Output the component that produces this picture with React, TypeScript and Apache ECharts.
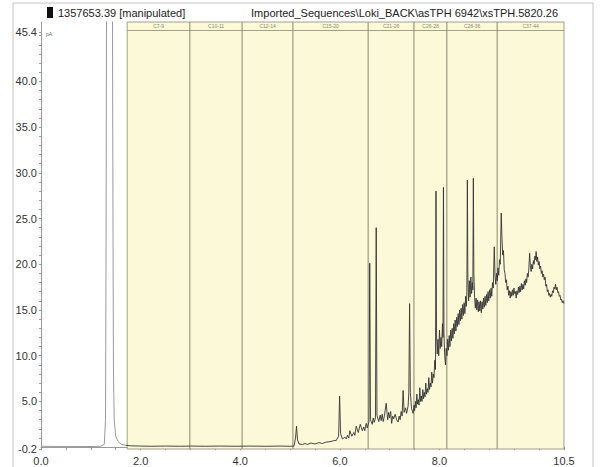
import React, { useEffect, useRef } from "react";
import * as echarts from "echarts";

const headerLeft = "1357653.39 [manipulated]";
const headerRight = "Imported_Sequences\\Loki_BACK\\asTPH 6942\\xsTPH.5820.26";

const bandNames = ["C7-9", "C10-11", "C12-14", "C15-20", "C21-26", "C26-28", "C28-36", "C37-44"];
const bandEdges = [1.73, 2.99, 4.04, 5.06, 6.57, 7.49, 8.15, 9.16, 10.5];

const xLabelValues = [0, 2, 4, 6, 8, 10.5];
const yLabelValues = [-0.2, 5, 10, 15, 20, 25, 30, 35, 40, 45.4];

const solventPeak: number[][] = [
  [0, 0.1], [0.3, 0.08], [0.6, 0.08], [0.9, 0.07], [1.1, 0.08], [1.2, 0.1], [1.27, 0.3],
  [1.295, 3], [1.305, 20], [1.32, 60], [1.43, 60], [1.445, 25], [1.455, 8], [1.47, 3],
  [1.5, 1.2], [1.55, 0.6], [1.62, 0.3], [1.7, 0.2],
];

const earlyRegion: number[][] = [
  [1.7, 0.2], [1.8, 0.15], [2.0, 0.12], [2.2, 0.1], [2.5, 0.12], [2.8, 0.1], [3.0, 0.12], [3.3, 0.1],
  [3.6, 0.12], [3.9, 0.1], [4.2, 0.12], [4.5, 0.1], [4.8, 0.12], [5.0, 0.1], [5.08, 0.12],
  [5.11, 1.0], [5.13, 2.3], [5.15, 0.8], [5.18, 0.35], [5.25, 0.3], [5.3, 0.4], [5.35, 0.3],
  [5.42, 0.45], [5.5, 0.35], [5.58, 0.5], [5.65, 0.4], [5.72, 0.55], [5.8, 0.6], [5.87, 0.7],
  [5.93, 0.75], [5.975, 1.2], [5.995, 5.6], [6.015, 1.5], [6.05, 0.9], [6.1, 1.1], [6.13, 0.9],
  [6.15, 1.3], [6.18, 1.0], [6.2, 1.8], [6.24, 1.2], [6.28, 1.6], [6.3, 1.3], [6.33, 2.3],
  [6.37, 1.6], [6.41, 2.5], [6.45, 1.8], [6.48, 2.2], [6.5, 1.8], [6.53, 2.6], [6.55, 2.1],
  [6.585, 2.8], [6.6, 20.1], [6.615, 3.0], [6.65, 2.5], [6.67, 3.2], [6.69, 2.7],
  [6.715, 3.2], [6.73, 24.0], [6.745, 3.5], [6.78, 2.8], [6.81, 3.5], [6.83, 2.9], [6.85, 3.6],
  [6.87, 2.8], [6.89, 3.3], [6.93, 4.8], [6.96, 3.0], [6.98, 3.8], [7.0, 3.2], [7.02, 3.9],
  [7.04, 2.6], [7.06, 3.4], [7.08, 3.1], [7.11, 3.6], [7.14, 3.0], [7.17, 2.75], [7.19, 3.4],
  [7.21, 3.0], [7.23, 3.9], [7.25, 3.4], [7.27, 6.2], [7.29, 3.8], [7.32, 4.3], [7.34, 3.7],
  [7.37, 4.5], [7.385, 6], [7.4, 15.7], [7.415, 6], [7.44, 4.2], [7.47, 3.7],
];

const midRegion: number[][] = [
  [7.49, 4.6], [7.5, 4.0], [7.52, 5.0], [7.53, 4.3], [7.545, 5.8], [7.56, 4.7], [7.575, 5.2],
  [7.59, 4.6], [7.605, 6.5], [7.62, 5.0], [7.635, 5.6], [7.65, 5.0], [7.665, 6.3], [7.68, 5.3],
  [7.695, 6.0], [7.71, 5.5], [7.725, 7.0], [7.74, 5.8], [7.755, 6.4], [7.77, 6.0], [7.785, 7.6],
  [7.8, 6.3], [7.815, 7.0], [7.83, 6.6], [7.845, 8.2], [7.86, 7.0], [7.875, 8.0], [7.89, 7.6],
  [7.905, 9.5], [7.92, 8.5], [7.93, 28.0], [7.94, 12.5], [7.955, 10.2], [7.97, 11.8],
  [7.985, 10.0], [8.0, 12.8], [8.015, 10.8], [8.03, 12.0], [8.045, 11.0], [8.06, 13.5],
  [8.07, 12.0], [8.08, 28.4], [8.09, 12.5], [8.105, 10.0], [8.12, 9.0], [8.135, 10.8],
  [8.15, 10.0], [8.165, 11.8], [8.18, 10.6], [8.195, 12.2], [8.21, 11.0], [8.225, 12.8],
  [8.24, 11.6], [8.255, 13.0], [8.27, 11.9], [8.285, 13.5], [8.3, 12.4], [8.315, 13.9],
  [8.33, 12.7], [8.345, 14.2], [8.36, 13.2], [8.375, 14.6], [8.39, 13.4], [8.405, 15.0],
  [8.42, 13.8], [8.435, 15.2], [8.45, 14.0], [8.465, 15.6], [8.48, 14.4], [8.495, 15.8],
  [8.51, 14.6], [8.525, 16.5], [8.54, 15.4], [8.55, 17.0], [8.56, 29.2], [8.57, 18.5],
  [8.585, 16.0], [8.6, 18.2], [8.615, 16.4], [8.63, 18.6], [8.645, 16.8], [8.66, 18.0],
  [8.67, 17.2], [8.68, 29.4], [8.69, 19.0], [8.705, 16.4], [8.72, 15.2], [8.735, 16.3],
  [8.75, 15.0], [8.765, 16.1], [8.78, 14.8], [8.795, 15.9], [8.81, 14.9], [8.825, 16.0],
  [8.84, 14.7], [8.855, 15.9], [8.87, 15.1], [8.885, 16.3], [8.9, 15.3], [8.915, 16.5],
  [8.93, 15.5], [8.945, 16.7], [8.96, 15.8], [8.975, 17.0], [8.99, 16.0],
];

const lateRegion: number[][] = [
  [9.005, 17.2], [9.02, 16.3], [9.035, 17.4], [9.05, 16.5], [9.065, 18.0], [9.08, 17.4],
  [9.1, 21.9], [9.115, 18.8], [9.13, 17.8], [9.145, 19.0], [9.16, 18.2], [9.175, 19.6],
  [9.19, 18.8], [9.205, 20.5], [9.22, 20.0], [9.24, 25.6], [9.255, 22.8], [9.27, 21.0],
  [9.285, 21.5], [9.3, 19.4], [9.315, 19.0], [9.33, 18.0], [9.345, 18.3], [9.36, 17.2],
  [9.375, 17.6], [9.39, 16.6], [9.405, 17.1], [9.42, 16.3], [9.435, 17.0], [9.45, 16.5],
  [9.465, 17.2], [9.48, 16.6], [9.495, 17.4], [9.51, 16.8], [9.525, 17.0], [9.54, 16.3],
  [9.555, 17.1], [9.57, 16.7], [9.585, 17.5], [9.6, 16.9], [9.615, 17.6], [9.63, 17.0],
  [9.645, 17.9], [9.66, 17.2], [9.675, 17.8], [9.69, 17.3], [9.705, 18.2], [9.72, 17.7],
  [9.735, 18.4], [9.75, 18.0], [9.765, 19.0], [9.78, 18.6], [9.795, 19.6], [9.81, 21.2],
  [9.825, 19.8], [9.84, 19.2], [9.855, 20.0], [9.87, 19.5], [9.885, 20.4], [9.9, 20.0],
  [9.915, 20.9], [9.93, 20.5], [9.94, 21.4], [9.955, 20.3], [9.97, 20.8], [9.985, 19.9],
  [10.0, 20.3], [10.015, 19.5], [10.03, 19.8], [10.045, 19.0], [10.06, 19.3], [10.075, 18.6],
  [10.09, 18.9], [10.105, 18.3], [10.12, 18.6], [10.135, 17.6], [10.15, 17.8], [10.165, 17.0],
  [10.18, 17.2], [10.195, 16.6], [10.21, 16.8], [10.225, 16.4], [10.24, 16.7], [10.255, 16.5],
  [10.27, 17.1], [10.285, 16.9], [10.3, 17.5], [10.315, 17.3], [10.33, 17.8], [10.345, 17.2],
  [10.36, 17.5], [10.375, 16.9], [10.39, 17.0], [10.405, 16.5], [10.42, 16.6], [10.435, 16.1],
  [10.45, 16.2], [10.465, 15.8], [10.48, 16.0], [10.5, 15.7],
];

const Y_MIN = -0.2;
const Y_MAX = 46.49;
const STRIP_Y = 45.62;

export default function App() {
  const ref = useRef<HTMLDivElement>(null);
  useEffect(() => {
    if (!ref.current) return;
    const chart = echarts.init(ref.current, undefined, { renderer: "svg" });
    const trace = [...earlyRegion, ...midRegion, ...lateRegion];
    const yTicks: number[] = [-0.2];
    for (let v = 1; v <= 45; v++) yTicks.push(v);
    yTicks.push(45.4);
    const xTicks: number[] = [];
    for (let v = 0; v <= 10.5; v += 0.5) xTicks.push(v);

    const bandAreas = bandNames.map((name, i) => [
      { xAxis: bandEdges[i], name },
      { xAxis: bandEdges[i + 1] },
    ]);

    const font = "'Liberation Sans', Arial, sans-serif";
    chart.setOption({
      animation: false,
      backgroundColor: "#ffffff",
      grid: { left: 41, right: 38, top: 22, bottom: 18, containLabel: false },
      xAxis: {
        type: "value",
        min: 0,
        max: 10.5,
        axisLine: { show: true, lineStyle: { color: "#9a9a9a", width: 1 } },
        axisTick: { show: true, customValues: xTicks, length: 3, lineStyle: { color: "#9a9a9a" } },
        axisLabel: {
          customValues: xLabelValues,
          formatter: (v: number) => v.toFixed(1),
          color: "#333",
          fontSize: 11,
          fontFamily: font,
          margin: 6,
        },
        splitLine: { show: false },
      },
      yAxis: {
        type: "value",
        min: Y_MIN,
        max: Y_MAX,
        axisLine: { show: true, lineStyle: { color: "#9a9a9a", width: 1 } },
        axisTick: { show: true, customValues: yTicks, length: 2, lineStyle: { color: "#9a9a9a" } },
        axisLabel: {
          customValues: yLabelValues,
          formatter: (v: number) => v.toFixed(1),
          color: "#333",
          fontSize: 11,
          fontFamily: font,
          margin: 4,
        },
        splitLine: { show: false },
      },
      graphic: [
        { type: "rect", shape: { x: 13, y: 3, width: 580, height: 470 }, style: { fill: "none", stroke: "#c4c4c4", lineWidth: 1 }, silent: true },
        { type: "rect", shape: { x: 47, y: 7, width: 6, height: 11 }, style: { fill: "#111" } },
        { type: "text", x: 58, y: 13, style: { text: headerLeft, fill: "#222", fontSize: 11, fontFamily: font, verticalAlign: "middle" } },
        { type: "text", x: 558, y: 13, style: { text: headerRight, fill: "#222", fontSize: 11, fontFamily: font, align: "right", verticalAlign: "middle" } },
        { type: "text", x: 46, y: 34, style: { text: "pA", fill: "#666", fontSize: 5, fontFamily: font, verticalAlign: "middle" } },
        { type: "text", x: 562, y: 442, style: { text: "min", fill: "#666", fontSize: 5, fontFamily: font, align: "right", verticalAlign: "middle" } },
      ],
      series: [
        {
          type: "line",
          data: [],
          z: 1,
          silent: true,
          markArea: {
            silent: true,
            itemStyle: { color: "#fbf9d8", borderColor: "#8c8c72", borderWidth: 0.8 },
            label: {
              show: true,
              position: "insideTop",
              distance: 1.5,
              fontSize: 5,
              color: "#8a8a70",
              fontFamily: font,
            },
            data: bandAreas,
          },
          markLine: {
            silent: true,
            symbol: "none",
            label: { show: false },
            lineStyle: { color: "#8c8c72", width: 0.8, type: "solid" },
            data: [[{ coord: [bandEdges[0], STRIP_Y] }, { coord: [10.5, STRIP_Y] }]],
          },
        },
        {
          type: "line",
          data: solventPeak,
          z: 3,
          showSymbol: false,
          symbol: "none",
          clip: true,
          lineStyle: { color: "#8f8f8f", width: 0.9 },
        },
        {
          type: "line",
          data: trace,
          z: 3,
          showSymbol: false,
          symbol: "none",
          clip: true,
          lineStyle: { color: "#333333", width: 0.9 },
        },
      ],
    });
    return () => chart.dispose();
  }, []);
  return <div ref={ref} style={{ position: "fixed", left: 0, top: 0, width: 602, height: 467 }} />;
}
